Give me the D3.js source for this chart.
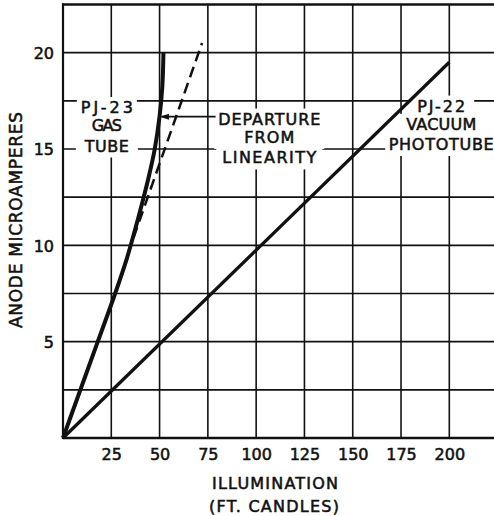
<!DOCTYPE html>
<html>
<head>
<meta charset="utf-8">
<script src="https://cdn.jsdelivr.net/npm/d3@7"></script>
<style>
  html, body { margin: 0; padding: 0; background: #fff; }
  svg { display: block; }
  text { font-family: "DejaVu Sans", "Liberation Sans", sans-serif; fill: #111; stroke: #111; stroke-width: 0.55px; }
</style>
</head>
<body>
<svg id="chart" width="494" height="516"></svg>
<script>
// ---- data ----
const xTicks = [25, 50, 75, 100, 125, 150, 175, 200];
const yTicks = [5, 10, 15, 20];
const xGrid = [25, 50, 75, 100, 125, 150, 175, 200, 225];
const yGrid = [2.5, 5, 7.5, 10, 12.5, 15, 17.5, 20];

// PJ-23 gas tube (illumination ft-candles, anode microamperes)
const pj23Illum   = [0, 18, 27, 33, 37, 41, 44.5, 47.5, 50, 51.4, 52];
const pj23Current = [0, 5, 7.5, 9.3, 10.7, 12.2, 13.6, 15, 16.7, 18.2, 20];

// Linear extrapolation (dashed)
const linearIllum   = [36.5, 72];
const linearCurrent = [10.4, 20.5];

// PJ-22 vacuum phototube
const pj22Illum   = [0, 200];
const pj22Current = [0, 19.5];

// annotation anchors (data units)
const labelPJ23 = { x: 22.7, y: [16.87, 15.96, 14.87], lines: ["PJ-23", "GAS", "TUBE"], widths: [52, 30, 44], bg: [60, 62, 62] };
const labelDep  = { x: 106.8, y: [16.27, 15.31, 14.25], lines: ["DEPARTURE", "FROM", "LINEARITY"], widths: [102, 50, 94], bg: [108, 110, 106] };
const labelPJ22 = { x: 195.8, y: [16.94, 15.99, 14.95], lines: ["PJ-22", "VACUUM", "PHOTOTUBE"], widths: [48, 70, 105], bg: [66, 100, 112] };
const arrowIllum = [79, 50.2];
const arrowCurrent = [16.68, 16.68];

const xTitle = ["ILLUMINATION", "(FT. CANDLES)"];
const yTitle = "ANODE MICROAMPERES";

// ---- drawing ----
const svg = d3.select("#chart");
const W = 494, H = 516;
svg.append("rect").attr("width", W).attr("height", H).attr("fill", "#fff");

const x = d3.scaleLinear().domain([0, 225]).range([63, 497.6]);
const y = d3.scaleLinear().domain([0, 22.5]).range([438, 4.5]);

const ink = "#111";

// grid
const g = svg.append("g");
g.selectAll("line.v").data(xGrid).enter().append("line")
  .attr("x1", d => x(d)).attr("x2", d => x(d))
  .attr("y1", y(22.5)).attr("y2", y(0))
  .attr("stroke", ink).attr("stroke-width", 1.6);
g.selectAll("line.h").data(yGrid).enter().append("line")
  .attr("x1", x(0)).attr("x2", W)
  .attr("y1", d => y(d)).attr("y2", d => y(d))
  .attr("stroke", ink).attr("stroke-width", 1.6);

// frame
g.append("line").attr("x1", x(0)).attr("x2", x(0)).attr("y1", y(22.5) - 1).attr("y2", y(0) + 1)
  .attr("stroke", ink).attr("stroke-width", 2.2);
g.append("line").attr("x1", x(0)).attr("x2", W).attr("y1", y(0)).attr("y2", y(0))
  .attr("stroke", ink).attr("stroke-width", 2.4);
g.append("line").attr("x1", x(0) - 1).attr("x2", W).attr("y1", y(22.5)).attr("y2", y(22.5))
  .attr("stroke", ink).attr("stroke-width", 2.4);

// axes tick labels
const xAxis = d3.axisBottom(x).tickValues(xTicks).tickSize(0).tickPadding(0).tickFormat(d3.format("d"));
const xa = svg.append("g").attr("transform", `translate(0,${y(0)})`).call(xAxis);
xa.select(".domain").remove();
xa.selectAll("text").attr("font-size", 16).attr("dy", null).attr("y", 22)
  .attr("font-family", '"DejaVu Sans", sans-serif').attr("fill", ink);

const yAxis = d3.axisLeft(y).tickValues(yTicks).tickSize(0).tickPadding(9).tickFormat(d3.format("d"));
const ya = svg.append("g").attr("transform", `translate(${x(0)},0)`).call(yAxis);
ya.select(".domain").remove();
ya.selectAll("text").attr("font-size", 16).attr("dy", "0.36em")
  .attr("font-family", '"DejaVu Sans", sans-serif').attr("fill", ink);

// axis titles
svg.append("text").attr("x", 275).attr("y", 488.5).attr("text-anchor", "middle")
  .attr("font-size", 16).attr("textLength", 126).attr("lengthAdjust", "spacing").text(xTitle[0]);
svg.append("text").attr("x", 274).attr("y", 511.5).attr("text-anchor", "middle")
  .attr("font-size", 16).attr("textLength", 130).attr("lengthAdjust", "spacing").text(xTitle[1]);
svg.append("text").attr("transform", "translate(21.5,220) rotate(-90)").attr("text-anchor", "middle")
  .attr("font-size", 17).attr("textLength", 216).attr("lengthAdjust", "spacing").text(yTitle);

// annotation labels with white background
function label(spec) {
  const grp = svg.append("g");
  spec.lines.forEach((t, i) => {
    const cx = x(spec.x), by = y(spec.y[i]), w = spec.bg[i];
    grp.append("rect").attr("x", cx - w / 2).attr("y", by - 16).attr("width", w).attr("height", 22)
      .attr("fill", "#fff");
  });
  spec.lines.forEach((t, i) => {
    grp.append("text").attr("x", x(spec.x)).attr("y", y(spec.y[i])).attr("text-anchor", "middle")
      .attr("font-size", 16).attr("textLength", spec.widths[i]).attr("lengthAdjust", "spacing").text(t);
  });
}
label(labelPJ23);
label(labelDep);
label(labelPJ22);

// curves
const line = d3.line().x(d => x(d[0])).y(d => y(d[1]));
const pj23 = pj23Illum.map((v, i) => [v, pj23Current[i]]);
const pj22 = pj22Illum.map((v, i) => [v, pj22Current[i]]);
const lin  = linearIllum.map((v, i) => [v, linearCurrent[i]]);

svg.append("path").attr("d", line.curve(d3.curveCatmullRom)(pj23))
  .attr("fill", "none").attr("stroke", ink).attr("stroke-width", 4);
svg.append("path").attr("d", d3.line().x(d => x(d[0])).y(d => y(d[1]))(pj22))
  .attr("fill", "none").attr("stroke", ink).attr("stroke-width", 3.3);
svg.append("path").attr("d", d3.line().x(d => x(d[0])).y(d => y(d[1]))(lin))
  .attr("fill", "none").attr("stroke", ink).attr("stroke-width", 2.5).attr("stroke-dasharray", "11,6");

// arrow
const ax0 = x(arrowIllum[0]), ax1 = x(arrowIllum[1]), ay = y(arrowCurrent[0]);
svg.append("line").attr("x1", ax0).attr("x2", ax1 + 2).attr("y1", ay).attr("y2", y(arrowCurrent[1]))
  .attr("stroke", ink).attr("stroke-width", 1.8);
svg.append("path").attr("d", `M${ax1},${ay} L${ax1 + 9},${ay - 3} L${ax1 + 9},${ay + 3} Z`).attr("fill", ink);
</script>
</body>
</html>
